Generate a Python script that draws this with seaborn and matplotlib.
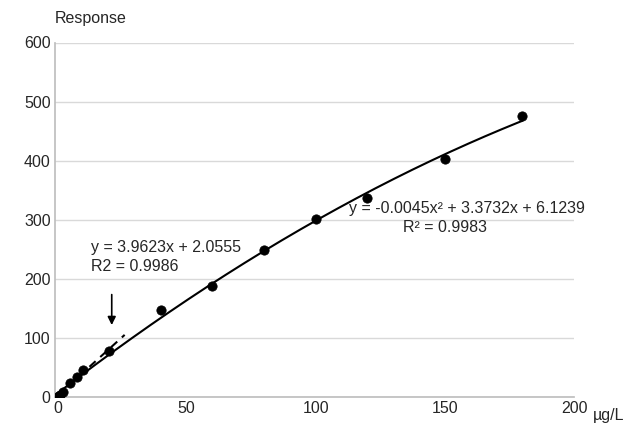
import numpy as np
import matplotlib
matplotlib.use("Agg")
import matplotlib.pyplot as plt
import seaborn as sns

conc = [0, 0.5, 1, 2, 5, 7.5, 10, 20, 40, 60, 80, 100, 120, 150, 180]
response = [0, 2, 4, 8, 23, 33, 46, 78, 147, 187, 249, 302, 336, 403, 476]
quad = [-0.0045, 3.3732, 6.1239]
lin = [3.9623, 2.0555]

sns.set_theme(style="white")
plt.rcParams["font.family"] = ["Liberation Sans", "DejaVu Sans"]

fig, ax = plt.subplots(figsize=(6.24, 4.25), dpi=100)
fig.subplots_adjust(left=0.088, right=0.92, top=0.9, bottom=0.066)

xq = np.linspace(0, 180, 200)
sns.lineplot(x=xq, y=np.polyval(quad, xq), color="black", lw=1.5, ax=ax)
xl = np.linspace(4, 26, 20)
ax.plot(xl, np.polyval(lin, xl), color="black", lw=1.5, ls=(0, (4, 3)))
sns.scatterplot(x=conc, y=response, color="black", s=45, edgecolor="black", zorder=3, ax=ax)

ax.set_xlim(-1, 200)
ax.set_ylim(0, 600)
ax.set_xticks([0, 50, 100, 150, 200])
ax.set_yticks(range(0, 601, 100))
ax.yaxis.grid(True, color="#d9d9d9", lw=1)
for s in ["top", "right"]:
    ax.spines[s].set_visible(False)
for s in ["left", "bottom"]:
    ax.spines[s].set_color("#bfbfbf")
ax.tick_params(labelsize=11.5, length=0, pad=3)
ax.text(1.037, -0.053, "µg/L", transform=ax.transAxes, fontsize=11.5, ha="left", va="center")
ax.text(0.0, 1.055, "Response", transform=ax.transAxes, fontsize=11.5, ha="left")

ax.text(13, 214, "y = 3.9623x + 2.0555\nR2 = 0.9986", fontsize=11.5, linespacing=1.3)
ax.annotate("", xy=(21, 117), xytext=(21, 178),
            arrowprops=dict(arrowstyle="-|>", color="black", lw=1.2))
ax.text(113, 280, "y = -0.0045x² + 3.3732x + 6.1239\n            R² = 0.9983", fontsize=11.5, linespacing=1.3)

fig.savefig("out.png")
